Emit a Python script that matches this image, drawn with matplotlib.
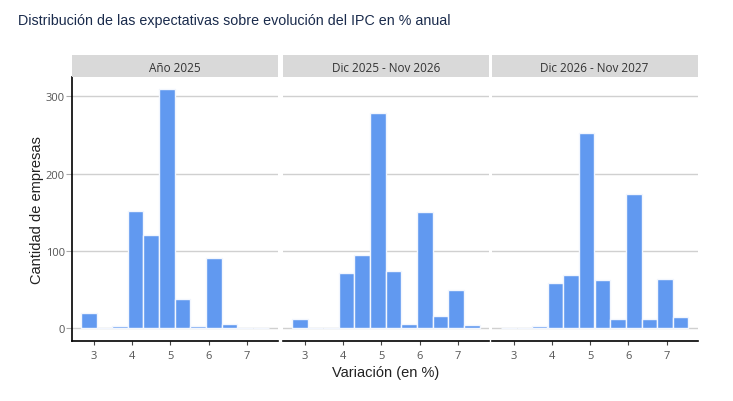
import matplotlib
matplotlib.use("Agg")
import matplotlib.pyplot as plt

# bins of the histogram (centers, width in % points)
bin_centers = [2.87, 3.28, 3.68, 4.09, 4.50, 4.91, 5.32, 5.73, 6.15, 6.55, 6.96, 7.37]
bin_width = 0.409

panel_titles = ["Año 2025", "Dic 2025 - Nov 2026", "Dic 2026 - Nov 2027"]
anio_2025 = [19, 0, 3, 152, 120, 309, 38, 3, 91, 6, 0, 0]
dic25_nov26 = [12, 0, 0, 72, 95, 279, 74, 5, 150, 16, 49, 4]
dic26_nov27 = [0, 0, 3, 59, 69, 253, 62, 12, 174, 12, 64, 15]
counts = [anio_2025, dic25_nov26, dic26_nov27]

x_ticks = [3, 4, 5, 6, 7]
y_ticks = [0, 100, 200, 300]

W, H = 733, 402
fig = plt.figure(figsize=(W / 100, H / 100), dpi=100)

bar_color = "#6199f0"
tick_col = "#555555"
lefts = [71.7, 282.7, 491.5]
pw = 206
top, bottom, strip_h = 78, 342.3, 21.7

for i in range(3):
    ax = fig.add_axes([lefts[i] / W, 1 - bottom / H, pw / W, (bottom - top) / H])
    ax.bar(bin_centers, counts[i], width=bin_width, color=bar_color,
           edgecolor="#f2f6fe", linewidth=1.0, zorder=3)
    ax.set_xlim(2.42, 7.81)
    ax.set_ylim(-17, 325)
    ax.set_yticks(y_ticks)
    ax.set_xticks(x_ticks)
    ax.grid(axis="y", color="#d0d0d0", linewidth=1, zorder=0)
    for s in ["top", "right"]:
        ax.spines[s].set_visible(False)
    ax.spines["bottom"].set_color("black")
    ax.spines["bottom"].set_linewidth(1.2)
    ax.tick_params(axis="x", length=3, color="#444444", labelcolor=tick_col,
                   labelsize=8, pad=3)
    for lab in ax.get_xticklabels():
        lab.set_fontfamily("Open Sans")
    if i == 0:
        ax.spines["left"].set_color("black")
        ax.spines["left"].set_linewidth(1.2)
        ax.tick_params(axis="y", length=4, color="#aaaaaa", labelcolor=tick_col,
                       labelsize=8, pad=1)
        for lab in ax.get_yticklabels():
            lab.set_fontfamily("Open Sans")
        ax.set_ylabel("Cantidad de empresas", fontsize=10.5, color="#222222",
                      family="Liberation Sans", labelpad=1)
    else:
        ax.spines["left"].set_visible(False)
        ax.tick_params(axis="y", length=0, labelleft=False)
    if i == 1:
        ax.set_xlabel("Variación (en %)", fontsize=10.5, color="#222222",
                      family="Liberation Sans", labelpad=3)

    # facet strip
    sax = fig.add_axes([lefts[i] / W, 1 - top / H, pw / W, strip_h / H])
    sax.set_facecolor("#d9d9d9")
    sax.set_xticks([])
    sax.set_yticks([])
    for s in sax.spines.values():
        s.set_visible(False)
    sax.text(0.5, 0.45, panel_titles[i], ha="center", va="center",
             fontsize=8.5, color="#333333", family="Open Sans",
             transform=sax.transAxes)

fig.text(18 / W, 1 - 21 / H,
         "Distribución de las expectativas sobre evolución del IPC en % anual",
         fontsize=10.3, color="#1a2b4c", family="Liberation Sans",
         ha="left", va="center")

fig.savefig("out.png", dpi=100, facecolor="white")
